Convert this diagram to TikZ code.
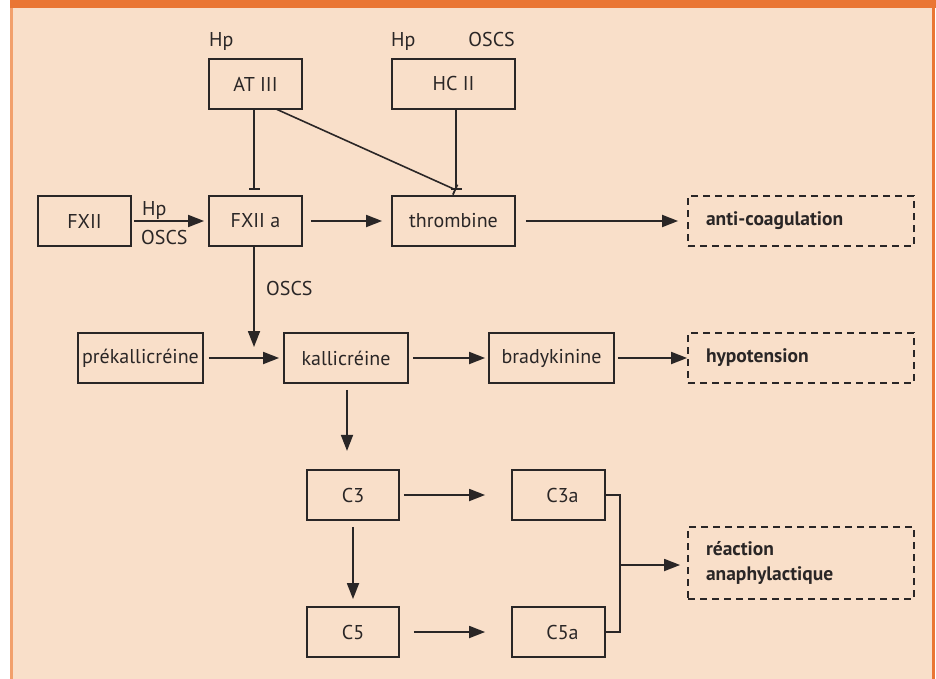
\documentclass[tikz,border=0pt]{standalone}
\usepackage{fontspec}
\setmainfont{PT Sans}
\usetikzlibrary{arrows.meta}
\definecolor{peach}{HTML}{F9DFC9}
\definecolor{orangebar}{HTML}{EA7634}
\definecolor{orangeleft}{HTML}{F2A06C}
\definecolor{ink}{HTML}{2A2626}
\tikzset{
  box/.style={draw=ink, line width=1.8pt, rectangle, minimum height=50pt, inner sep=0pt, font=\fontsize{20}{24}\selectfont, text=ink},
  outbox/.style={box, dashed, dash pattern=on 7pt off 5pt, minimum width=226pt, text width=190pt, align=left, font=\fontsize{19.5}{25}\selectfont\bfseries},
  lbl/.style={inner sep=0pt, font=\fontsize{20}{24}\selectfont, text=ink},
  arr/.style={draw=ink, line width=1.8pt, -{Triangle[length=16pt,width=12pt]}},
  inh/.style={draw=ink, line width=1.6pt, -{Bar[width=11pt,line width=1.8pt]}},
  conn/.style={draw=ink, line width=1.8pt}
}
\begin{document}
\begin{tikzpicture}[x=1pt,y=-1pt]
\useasboundingbox (0,0) rectangle (936,679);
\fill[white] (0,0) rectangle (936,679);
\fill[peach] (10,0) rectangle (934,679);
\fill[orangebar] (10,0) rectangle (936,8);
\fill[orangeleft] (10,8) rectangle (12.5,679);
\fill[orangebar] (932,8) rectangle (934.5,679);

% nodes
\node[box, minimum width=93pt] (at3) at (255.5,84) {AT III};
\node[box, minimum width=123pt] (hc2) at (453.5,84) {HC II};
\node[box, minimum width=93pt] (fx12) at (84.5,221) {FXII};
\node[box, minimum width=93pt] (fx12a) at (255.5,221) {FXII a};
\node[box, minimum width=123pt] (thr) at (453.5,221) {thrombine};
\node[outbox] (anti) at (801,221) {anti-coagulation};
\node[box, minimum width=125pt] (prek) at (140.5,358) {prékallicréine};
\node[box, minimum width=124pt] (kall) at (346,358) {kallicréine};
\node[box, minimum width=125pt] (brady) at (551.5,358) {bradykinine};
\node[outbox] (hypo) at (801,358) {hypotension};
\node[box, minimum width=92pt] (c3) at (353,495) {C3};
\node[box, minimum width=93pt] (c3a) at (558.5,495) {\hspace*{8pt}C3a};
\node[box, minimum width=92pt] (c5) at (353,632) {C5};
\node[box, minimum width=93pt] (c5a) at (558.5,632) {\hspace*{8pt}C5a};
\node[outbox, minimum height=72pt] (reac) at (801,563) {réaction\\anaphylactique};

% labels
\node[lbl, anchor=base west] (hp1) at (209,47) {Hp};
\node[lbl, anchor=base west] (hp2) at (391,47) {Hp};
\node[lbl, anchor=base east] (os1) at (515,47) {OSCS};
\node[lbl, anchor=base west] (hp3) at (142,215) {Hp};
\node[lbl, anchor=base west] (os2) at (141,244) {OSCS};
\node[lbl, anchor=base west] (os3) at (266,295) {OSCS};

% coordinates
\coordinate (atdown) at (254,109);
\coordinate (atdiag) at (276,109);
\coordinate (teeA) at (254,190);
\coordinate (teeT) at (456,190);
\coordinate (hcdown) at (456,109);
\coordinate (fxdown) at (254,246);
\coordinate (fxtip) at (254,347);
\coordinate (brR1) at (620,495);
\coordinate (brR2) at (620,632);
\coordinate (brM) at (620,565);

% inhibitions
\draw[inh] (atdown) -- (teeA);
\draw[inh] (atdiag) -- (teeT);
\draw[inh] (hcdown) -- (teeT);

% arrows
\draw[arr, shorten <=2pt, shorten >=4pt] (fx12.east) -- (fx12a.west);
\draw[arr, shorten <=8pt, shorten >=9pt] (fx12a.east) -- (thr.west);
\draw[arr, shorten <=10pt, shorten >=9pt] (thr.east) -- (anti.west);
\draw[arr] (fxdown) -- (fxtip);
\draw[arr, shorten <=5pt, shorten >=4pt] (prek.east) -- (kall.west);
\draw[arr, shorten <=4.5pt, shorten >=3pt] (kall.east) -- (brady.west);
\draw[arr, shorten <=3pt] (brady.east) -- (anti.west |- brady.east);
\draw[arr, shorten <=6pt, shorten >=7pt] (kall.south -| c3.north) ++(-6,0) -- ++(0,74);
\draw[arr, shorten <=6pt, shorten >=7pt] (c3.south) -- (c5.north);
\draw[arr, shorten <=4pt, shorten >=26pt] (c3.east) -- (c3a.west);
\draw[arr, shorten <=14pt, shorten >=26pt] (c5.east) -- (c5a.west);
\draw[conn] (c3a.east) -- (brR1) -- (brR2) -- (c5a.east);
\draw[arr, shorten >=7pt] (brM) -- (reac.west |- brM);
\end{tikzpicture}
\end{document}
